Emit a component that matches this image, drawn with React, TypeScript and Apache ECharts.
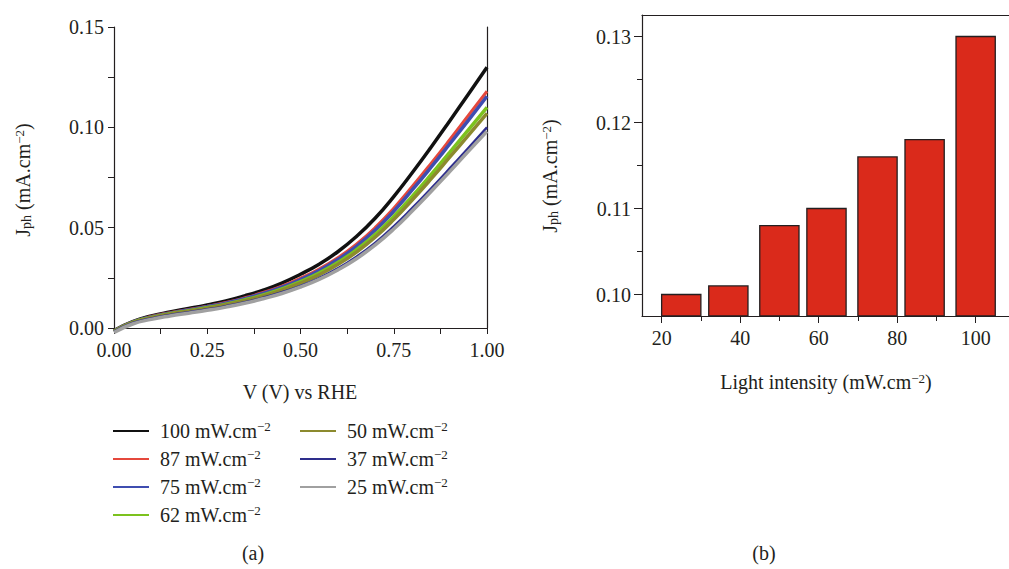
import React, { useEffect, useRef } from "react";
import * as echarts from "echarts";

// ---------- data ----------
const voltage = [0, 0.05, 0.1, 0.15, 0.2, 0.25, 0.3, 0.35, 0.4, 0.45, 0.5, 0.55, 0.6, 0.65, 0.7, 0.75, 0.8, 0.85, 0.9, 0.95, 1.0];

const j100 = [-0.0012, 0.0032, 0.006, 0.008, 0.0097, 0.0115, 0.0135, 0.016, 0.0189, 0.0224, 0.0268, 0.0318, 0.038, 0.0456, 0.0547, 0.0655, 0.0775, 0.0901, 0.1032, 0.1165, 0.13];
const j87 = [-0.0014, 0.003, 0.0057, 0.0076, 0.0092, 0.0109, 0.0127, 0.015, 0.0177, 0.0209, 0.0248, 0.0294, 0.035, 0.0418, 0.05, 0.0597, 0.0706, 0.082, 0.0938, 0.1059, 0.118];
const j75 = [-0.0015, 0.0029, 0.0055, 0.0074, 0.009, 0.0106, 0.0124, 0.0146, 0.0172, 0.0203, 0.0241, 0.0286, 0.0341, 0.0407, 0.0487, 0.0582, 0.0689, 0.0801, 0.0917, 0.1035, 0.1155];
const j62 = [-0.0016, 0.0028, 0.0053, 0.0071, 0.0086, 0.0102, 0.0119, 0.014, 0.0165, 0.0195, 0.0231, 0.0274, 0.0326, 0.039, 0.0466, 0.0556, 0.0657, 0.0764, 0.0875, 0.0987, 0.11];
const j50 = [-0.0017, 0.0027, 0.0051, 0.0069, 0.0084, 0.0099, 0.0116, 0.0136, 0.016, 0.0189, 0.0224, 0.0265, 0.0316, 0.0378, 0.0452, 0.054, 0.0639, 0.0743, 0.0851, 0.096, 0.107];
const j37 = [-0.0018, 0.0025, 0.0048, 0.0065, 0.0079, 0.0093, 0.0109, 0.0128, 0.0151, 0.0178, 0.021, 0.0249, 0.0297, 0.0355, 0.0424, 0.0506, 0.0598, 0.0695, 0.0795, 0.0897, 0.1];
const j25 = [-0.0022, 0.002, 0.0043, 0.006, 0.0074, 0.0088, 0.0104, 0.0123, 0.0146, 0.0172, 0.0204, 0.0242, 0.0289, 0.0345, 0.0413, 0.0493, 0.0584, 0.068, 0.0779, 0.088, 0.098];

const seriesNames = ["100 mW.cm−2", "87 mW.cm−2", "75 mW.cm−2", "62 mW.cm−2", "50 mW.cm−2", "37 mW.cm−2", "25 mW.cm−2"];
const seriesData = [j100, j87, j75, j62, j50, j37, j25];

const intensity = [25, 37, 50, 62, 75, 87, 100];
const jphBars = [0.1, 0.101, 0.108, 0.11, 0.116, 0.118, 0.13];

// tick labels / tick positions
const leftXTicks = [0, 0.125, 0.25, 0.375, 0.5, 0.625, 0.75, 0.875, 1];
const leftXLabels = [0, 0.25, 0.5, 0.75, 1];
const leftYTicks = [0, 0.025, 0.05, 0.075, 0.1, 0.125, 0.15];
const leftYLabels = [0, 0.05, 0.1, 0.15];
const rightXLabels = [20, 40, 60, 80, 100];
const rightXMinor = [30, 50, 70, 90];
const rightYLabels = [0.1, 0.11, 0.12, 0.13];
const rightYMinor = [0.105, 0.115, 0.125];

// ---------- styles ----------
const FONT = "'Liberation Serif', 'DejaVu Serif', serif";
const INK = "#231f20";
const colors = ["#111111", "#e5483c", "#3f4db0", "#7cc21e", "#8c8a2e", "#2e2e8c", "#a0a0a0"];
const widths = [3.5, 3, 3.5, 3.5, 3.5, 2.5, 3.5];
const BAR_HALF = 5;
const RIGHT_YMIN = 0.0975;

const labelStyle = { color: INK, fontFamily: FONT, fontSize: 20 };
const richSup = {
  sup: { fontSize: 13, fontFamily: FONT, color: INK, verticalAlign: "top" as const },
  sub: { fontSize: 14, fontFamily: FONT, color: INK, verticalAlign: "bottom" as const },
};

const yTitle = "J{sub|ph} (mA.cm{sup|−2})";

function buildOption(): any {
  const lineSeries = seriesNames.map((name, i) => ({
    name,
    type: "line",
    xAxisIndex: 0,
    yAxisIndex: 0,
    data: voltage.map((v, k) => [v, seriesData[i][k]]),
    smooth: 0.5,
    showSymbol: false,
    clip: false,
    lineStyle: { color: colors[i], width: widths[i] },
    itemStyle: { color: colors[i] },
    z: 2 + i,
  }));

  const legendCommon = {
    orient: "vertical",
    icon: "rect",
    itemWidth: 36,
    itemHeight: 2,
    itemGap: 6,
    top: 420,
    padding: 0,
    formatter: (n: string) => n.replace("−2", "{sup|−2}"),
    textStyle: { ...labelStyle, padding: [0, 0, 0, 6], lineHeight: 22, rich: { sup: { ...richSup.sup } } },
  };

  return {
    animation: false,
    backgroundColor: "#ffffff",
    textStyle: { fontFamily: FONT },
    grid: [
      { left: 114, top: 27, width: 373, height: 301 },
      { left: 642, top: 15, right: 0, height: 301 },
    ],
    legend: [
      { ...legendCommon, left: 113, data: seriesNames.slice(0, 4) },
      { ...legendCommon, left: 300, data: seriesNames.slice(4) },
    ],
    xAxis: [
      {
        type: "value",
        gridIndex: 0,
        min: 0,
        max: 1,
        position: "bottom",
        axisLine: { onZero: false, lineStyle: { color: INK, width: 1.2 } },
        axisTick: { show: true, inside: false, length: 6, customValues: leftXTicks, lineStyle: { color: INK } },
        axisLabel: { ...labelStyle, margin: 12, customValues: leftXLabels, formatter: (v: number) => v.toFixed(2) },
        splitLine: { show: false },
      },
      {
        type: "value",
        gridIndex: 1,
        min: 15,
        max: 108.5,
        position: "bottom",
        axisLine: { onZero: false, lineStyle: { color: INK, width: 1.2 } },
        axisTick: { show: true, length: 7, customValues: rightXLabels, lineStyle: { color: INK } },
        axisLabel: { ...labelStyle, margin: 12, customValues: rightXLabels, formatter: (v: number) => String(v) },
        splitLine: { show: false },
      },
      {
        type: "value",
        gridIndex: 1,
        min: 15,
        max: 108.5,
        position: "bottom",
        axisLine: { show: false },
        axisTick: { show: true, length: 5, customValues: rightXMinor, lineStyle: { color: INK } },
        axisLabel: { show: false },
        splitLine: { show: false },
      },
      {
        type: "value",
        gridIndex: 1,
        min: 15,
        max: 108.5,
        position: "top",
        axisLine: { onZero: false, lineStyle: { color: INK, width: 1.2 } },
        axisTick: { show: false },
        axisLabel: { show: false },
        splitLine: { show: false },
      },
    ],
    yAxis: [
      {
        type: "value",
        gridIndex: 0,
        min: 0,
        max: 0.15,
        position: "left",
        axisLine: { show: true, onZero: false, lineStyle: { color: INK, width: 1.2 } },
        axisTick: { show: true, length: 6, customValues: leftYTicks, lineStyle: { color: INK } },
        axisLabel: { ...labelStyle, margin: 10, customValues: leftYLabels, formatter: (v: number) => v.toFixed(2) },
        splitLine: { show: false },
      },
      {
        type: "value",
        gridIndex: 0,
        min: 0,
        max: 0.15,
        position: "right",
        axisLine: { show: true, onZero: false, lineStyle: { color: INK, width: 1.2 } },
        axisTick: { show: false },
        axisLabel: { show: false },
        splitLine: { show: false },
      },
      {
        type: "value",
        gridIndex: 1,
        min: RIGHT_YMIN,
        max: 0.1325,
        position: "left",
        axisLine: { show: true, onZero: false, lineStyle: { color: INK, width: 1.2 } },
        axisTick: { show: true, length: 8, customValues: rightYLabels, lineStyle: { color: INK } },
        axisLabel: { ...labelStyle, margin: 11, customValues: rightYLabels, formatter: (v: number) => v.toFixed(2) },
        splitLine: { show: false },
      },
      {
        type: "value",
        gridIndex: 1,
        min: RIGHT_YMIN,
        max: 0.1325,
        position: "left",
        axisLine: { show: false },
        axisTick: { show: true, length: 5, customValues: rightYMinor, lineStyle: { color: INK } },
        axisLabel: { show: false },
        splitLine: { show: false },
      },
    ],
    series: [
      ...lineSeries,
      {
        type: "custom",
        name: "bars",
        xAxisIndex: 1,
        yAxisIndex: 2,
        data: intensity.map((x, i) => [x, jphBars[i]]),
        renderItem: (_params: any, api: any) => {
          const x = api.value(0);
          const y = api.value(1);
          const p0 = api.coord([x - BAR_HALF, y]);
          const p1 = api.coord([x + BAR_HALF, RIGHT_YMIN]);
          return {
            type: "rect",
            shape: { x: p0[0], y: p0[1], width: p1[0] - p0[0], height: p1[1] - p0[1] },
            style: { fill: "#da2a1b", stroke: INK, lineWidth: 1.3 },
          };
        },
        z: 1,
      },
    ],
    graphic: [
      {
        type: "text",
        x: 23,
        y: 180,
        rotation: Math.PI / 2,
        style: { text: yTitle, ...labelStyle, fill: INK, align: "center", verticalAlign: "middle", rich: richSup },
      },
      {
        type: "text",
        x: 550,
        y: 176,
        rotation: Math.PI / 2,
        style: { text: yTitle, ...labelStyle, fill: INK, align: "center", verticalAlign: "middle", rich: richSup },
      },
      {
        type: "text",
        x: 300,
        y: 392,
        style: { text: "V (V) vs RHE", ...labelStyle, fill: INK, align: "center", verticalAlign: "middle" },
      },
      {
        type: "text",
        x: 826,
        y: 382,
        style: { text: "Light intensity (mW.cm{sup|−2})", ...labelStyle, fill: INK, align: "center", verticalAlign: "middle", rich: richSup },
      },
      {
        type: "text",
        x: 253,
        y: 553,
        style: { text: "(a)", ...labelStyle, fill: INK, align: "center", verticalAlign: "middle" },
      },
      {
        type: "text",
        x: 764,
        y: 553,
        style: { text: "(b)", ...labelStyle, fill: INK, align: "center", verticalAlign: "middle" },
      },
    ],
  };
}

export default function App() {
  const ref = useRef<HTMLDivElement>(null);
  useEffect(() => {
    if (!ref.current) return;
    const chart = echarts.init(ref.current, null, { renderer: "svg" });
    chart.setOption(buildOption());
    return () => chart.dispose();
  }, []);
  return (
    <div
      ref={ref}
      style={{ position: "fixed", left: 0, top: 0, width: 1009, height: 569, background: "#ffffff" }}
    />
  );
}
